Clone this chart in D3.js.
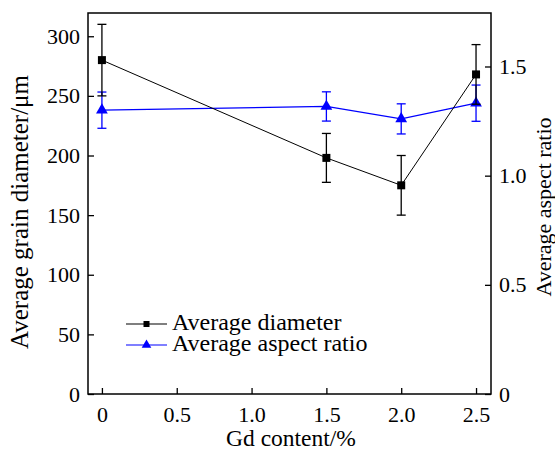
<!DOCTYPE html>
<html>
<head>
<meta charset="utf-8">
<script src="https://cdn.jsdelivr.net/npm/d3@7"></script>
<style>
  body { margin: 0; background: #fff; }
  text { font-family: "Liberation Serif", "Times New Roman", serif; }
</style>
</head>
<body>
<svg id="chart"></svg>
<script>
// data
const gd = [0, 1.5, 2.0, 2.5];
const diameter = [280, 198, 175, 268];
const diameterErr = [30, 20.5, 25, 25];
const aspect = [1.30, 1.317, 1.26, 1.332];
const aspectErr = [0.083, 0.067, 0.069, 0.083];
const xTicks = [0, 0.5, 1.0, 1.5, 2.0, 2.5];
const yLeftTicks = [0, 50, 100, 150, 200, 250, 300];
const yRightTicks = [0, 0.5, 1.0, 1.5];

const width = 555, height = 450;
const margin = { top: 13, right: 64, bottom: 56, left: 88 };
const w = width - margin.left - margin.right;
const h = height - margin.top - margin.bottom;

const svg = d3.select('#chart')
  .attr('width', width)
  .attr('height', height);

const chart = svg.append('g')
  .attr('transform', `translate(${margin.left}, ${margin.top})`);

const x = d3.scaleLinear().domain([-0.093, 2.6]).range([0, w]);
const yL = d3.scaleLinear().domain([0, 319.5]).range([h, 0]);
const yR = d3.scaleLinear().domain([0, 1.745]).range([h, 0]);

const fmt1 = d => d === 0 ? '0' : d3.format('.1f')(d);

// axes, ticks inward
const xAxis = chart.append('g')
  .attr('transform', `translate(0, ${h})`)
  .call(d3.axisBottom(x).tickValues(xTicks).tickFormat(fmt1).tickSize(-6).tickPadding(12));

const yAxisL = chart.append('g')
  .call(d3.axisLeft(yL).tickValues(yLeftTicks).tickSize(-6).tickPadding(8));

const yAxisR = chart.append('g')
  .attr('transform', `translate(${w}, 0)`)
  .call(d3.axisRight(yR).tickValues(yRightTicks).tickFormat(fmt1).tickSize(-6).tickPadding(8));

[xAxis, yAxisL, yAxisR].forEach(a => {
  a.attr('font-family', null);
  a.select('.domain').remove();
  a.selectAll('.tick line').attr('stroke', '#000').attr('stroke-width', 1.3);
  a.selectAll('text').attr('font-size', 22).attr('fill', '#000')
    .style('font-family', '"Liberation Serif", serif');
});

// frame
chart.append('rect')
  .attr('width', w).attr('height', h)
  .attr('fill', 'none').attr('stroke', '#000').attr('stroke-width', 1.5);

function drawSeries(vals, errs, y, color, lw, marker) {
  const pts = gd.map((g, i) => ({ x: g, y: vals[i], e: errs[i] }));
  const g = chart.append('g');
  // error bars
  pts.forEach(p => {
    const cx = x(p.x);
    g.append('line')
      .attr('x1', cx).attr('x2', cx)
      .attr('y1', y(p.y - p.e)).attr('y2', y(p.y + p.e))
      .attr('stroke', color).attr('stroke-width', 1.3);
    [p.y - p.e, p.y + p.e].forEach(v => {
      g.append('line')
        .attr('x1', cx - 4.5).attr('x2', cx + 4.5)
        .attr('y1', y(v)).attr('y2', y(v))
        .attr('stroke', color).attr('stroke-width', 1.3);
    });
  });
  g.append('path')
    .datum(pts)
    .attr('fill', 'none')
    .attr('stroke', color)
    .attr('stroke-width', lw)
    .attr('d', d3.line().x(d => x(d.x)).y(d => y(d.y)));
  g.selectAll('.m')
    .data(pts)
    .enter()
    .append('path')
    .attr('transform', d => `translate(${x(d.x)}, ${y(d.y)})`)
    .attr('d', d3.symbol().type(marker).size(marker === d3.symbolSquare ? 64 : 60))
    .attr('fill', color);
}

drawSeries(aspect, aspectErr, yR, '#0000ff', 1.3, d3.symbolTriangle);
drawSeries(diameter, diameterErr, yL, '#000', 1, d3.symbolSquare);

// legend
const legend = [
  { label: 'Average diameter', color: '#000', marker: d3.symbolSquare, size: 36, y: 324 },
  { label: 'Average aspect ratio', color: '#0000ff', marker: d3.symbolTriangle, size: 40, y: 345 }
];
legend.forEach(l => {
  svg.append('line')
    .attr('x1', 126).attr('x2', 167)
    .attr('y1', l.y).attr('y2', l.y)
    .attr('stroke', l.color).attr('stroke-width', 1.2);
  svg.append('path')
    .attr('transform', `translate(146.5, ${l.y})`)
    .attr('d', d3.symbol().type(l.marker).size(l.size))
    .attr('fill', l.color);
  svg.append('text')
    .attr('x', 172).attr('y', l.y + 6)
    .attr('font-size', 24)
    .text(l.label);
});

// axis titles
svg.append('text')
  .attr('transform', `translate(28, 212) rotate(-90)`)
  .attr('text-anchor', 'middle')
  .attr('font-size', 25)
  .text('Average grain diameter/μm');

svg.append('text')
  .attr('transform', `translate(551, 207) rotate(-90)`)
  .attr('text-anchor', 'middle')
  .attr('font-size', 22)
  .text('Average aspect ratio');

svg.append('text')
  .attr('x', 291).attr('y', 446)
  .attr('text-anchor', 'middle')
  .attr('font-size', 23.5)
  .text('Gd content/%');
</script>
</body>
</html>
